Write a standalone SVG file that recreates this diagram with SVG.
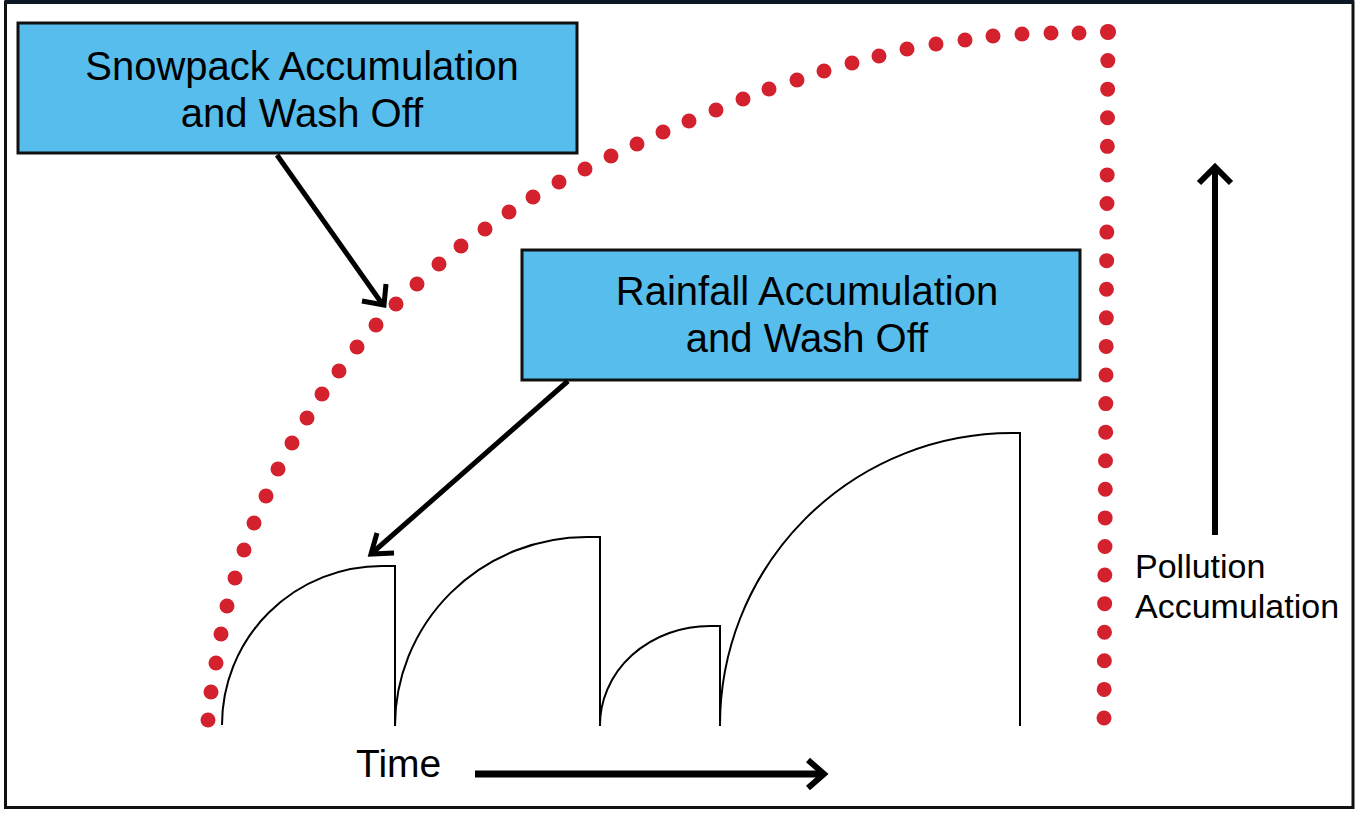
<svg xmlns="http://www.w3.org/2000/svg" width="1367" height="817" viewBox="0 0 1367 817">
<style>
.box{fill:#57BDEC;stroke:#111;stroke-width:3}
.lbl{font-family:"Liberation Sans",Arial,sans-serif;font-size:40px;fill:#000;text-anchor:middle}
.axis{font-family:"Liberation Sans",Arial,sans-serif;fill:#000}
.arr{fill:none;stroke:#000;stroke-width:5;stroke-linecap:butt;stroke-linejoin:miter}
.curve{fill:none;stroke:#000;stroke-width:2}
.d{fill:#D3212D}
</style>
<rect x="0" y="0" width="1367" height="817" fill="#fff"/>
<rect x="5.5" y="2" width="1347.5" height="805.5" fill="none" stroke="#111" stroke-width="3"/>
<line x1="5" y1="2" x2="1354" y2="2" stroke="#0b1724" stroke-width="4"/>

<g id="snowpack-curve">
<circle class="d" cx="208" cy="720" r="7.5"/>
<circle class="d" cx="211" cy="692" r="7.5"/>
<circle class="d" cx="216" cy="663" r="7.5"/>
<circle class="d" cx="221" cy="634" r="7.5"/>
<circle class="d" cx="227" cy="606" r="7.5"/>
<circle class="d" cx="235" cy="578" r="7.5"/>
<circle class="d" cx="244" cy="550" r="7.5"/>
<circle class="d" cx="254" cy="523" r="7.5"/>
<circle class="d" cx="266" cy="496" r="7.5"/>
<circle class="d" cx="278" cy="469" r="7.5"/>
<circle class="d" cx="292" cy="443" r="7.5"/>
<circle class="d" cx="307" cy="418" r="7.5"/>
<circle class="d" cx="322" cy="394" r="7.5"/>
<circle class="d" cx="339" cy="371" r="7.5"/>
<circle class="d" cx="357" cy="347" r="7.5"/>
<circle class="d" cx="376" cy="325" r="7.5"/>
<circle class="d" cx="396" cy="304" r="7.5"/>
<circle class="d" cx="417" cy="284" r="7.5"/>
<circle class="d" cx="439" cy="264" r="7.5"/>
<circle class="d" cx="461" cy="246" r="7.5"/>
<circle class="d" cx="485" cy="229" r="7.5"/>
<circle class="d" cx="509" cy="212" r="7.5"/>
<circle class="d" cx="533" cy="197" r="7.5"/>
<circle class="d" cx="559" cy="182" r="7.5"/>
<circle class="d" cx="585" cy="169" r="7.5"/>
<circle class="d" cx="611" cy="156" r="7.5"/>
<circle class="d" cx="637" cy="144" r="7.5"/>
<circle class="d" cx="663" cy="132" r="7.5"/>
<circle class="d" cx="689" cy="121" r="7.5"/>
<circle class="d" cx="716" cy="110" r="7.5"/>
<circle class="d" cx="743" cy="99" r="7.5"/>
<circle class="d" cx="769" cy="89" r="7.5"/>
<circle class="d" cx="797" cy="80" r="7.5"/>
<circle class="d" cx="824" cy="71" r="7.5"/>
<circle class="d" cx="852" cy="63" r="7.5"/>
<circle class="d" cx="879" cy="56" r="7.5"/>
<circle class="d" cx="907" cy="49" r="7.5"/>
<circle class="d" cx="936" cy="44" r="7.5"/>
<circle class="d" cx="965" cy="40" r="7.5"/>
<circle class="d" cx="993" cy="36" r="7.5"/>
<circle class="d" cx="1022" cy="34" r="7.5"/>
<circle class="d" cx="1051" cy="33" r="7.5"/>
<circle class="d" cx="1079" cy="33" r="7.5"/>
<circle class="d" cx="1108" cy="32" r="8"/>
<path d="M1108 32 L1104 718" fill="none" stroke="#D3212D" stroke-width="15" stroke-linecap="round" stroke-dasharray="0 28.583"/>
</g>

<g id="rainfall-curve">
<path class="curve" d="M222 725 A160 159 0 0 1 382 566 L395 566 L395 726"/>
<path class="curve" d="M395 726 A192 189 0 0 1 587 537 L600 537 L600 726"/>
<path class="curve" d="M600 726 A110 99 0 0 1 710 626 L720 626 L720 726"/>
<path class="curve" d="M720 726 A292 292 0 0 1 1012 433 L1020 433 L1020 726"/>
</g>

<g id="snowpack-box">
<rect class="box" x="18" y="23" width="559" height="130"/>
<text class="lbl" x="302" y="80">Snowpack Accumulation</text>
<text class="lbl" x="302" y="127">and Wash Off</text>
</g>

<g id="rainfall-box">
<rect class="box" x="522" y="250" width="558" height="130"/>
<text class="lbl" x="807" y="305">Rainfall Accumulation</text>
<text class="lbl" x="807" y="352">and Wash Off</text>
</g>

<g id="time-label">
<text class="axis" x="356" y="777" font-size="39">Time</text>
</g>

<g id="pollution-label">
<text class="axis" x="1135" y="578" font-size="34">Pollution</text>
<text class="axis" x="1135" y="618" font-size="34">Accumulation</text>
</g>

<g id="connectors">
<line class="arr" x1="277" y1="155" x2="383" y2="305"/>
<polyline class="arr" points="362,301 384,305 386,284"/>
<line class="arr" x1="568" y1="381" x2="371" y2="554"/>
<polyline class="arr" points="377,533 371,554 394,553"/>
<line class="arr" x1="475" y1="774" x2="823" y2="774" style="stroke-width:7"/>
<polyline class="arr" points="808,760 824,774 808,788" style="stroke-width:6"/>
<line class="arr" x1="1215" y1="535" x2="1215" y2="168" style="stroke-width:6"/>
<polyline class="arr" points="1199,183 1215,167 1231,183" style="stroke-width:6"/>
</g>
</svg>
